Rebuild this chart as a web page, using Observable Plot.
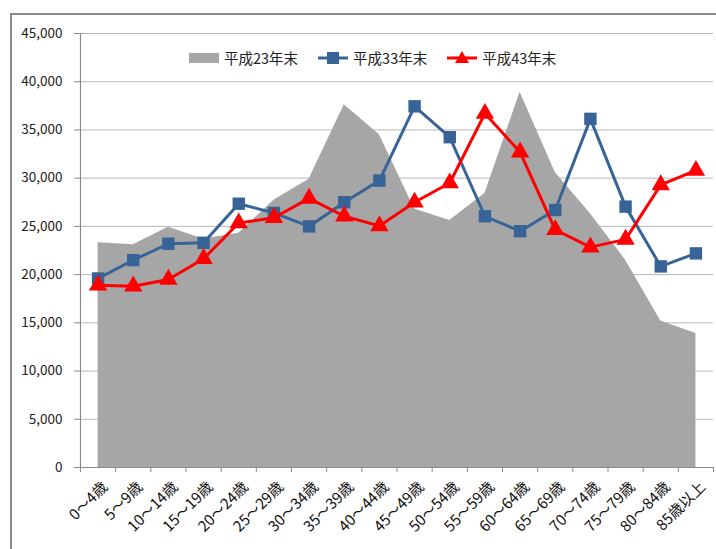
<!DOCTYPE html>
<html>
<head>
<meta charset="utf-8">
<script src="https://cdn.jsdelivr.net/npm/d3@7"></script>
<script src="https://cdn.jsdelivr.net/npm/@observablehq/plot@0.6"></script>
<style>
  html, body { margin: 0; padding: 0; background: #fff; overflow: hidden; }
  #wrap { position: relative; width: 716px; height: 549px; font-family: "Noto Sans CJK JP", "Noto Sans", sans-serif; }
  #frame { position: absolute; left: 10px; top: 13px; width: 716px; height: 560px; border: 2px solid #8a8a8a; box-sizing: border-box; pointer-events: none; }
  #chart { position: absolute; left: 0; top: 0; }
  #legend { position: absolute; top: 47px; left: 189px; display: flex; align-items: center; font-size: 14.5px; color: #222; white-space: nowrap; }
  #legend .item { display: flex; align-items: center; margin-right: 20px; }
  #legend svg { margin-right: 5px; }
</style>
</head>
<body>
<div id="wrap">
  <div id="chart"></div>
  <div id="frame"></div>
  <div id="legend"></div>
</div>
<script>
const categories = ["0～4歳","5～9歳","10～14歳","15～19歳","20～24歳","25～29歳","30～34歳","35～39歳","40～44歳","45～49歳","50～54歳","55～59歳","60～64歳","65～69歳","70～74歳","75～79歳","80～84歳","85歳以上"];
const seriesNames = ["平成23年末","平成33年末","平成43年末"];
const h23 = [23300, 23100, 24900, 23700, 24300, 27700, 29900, 37600, 34500, 26800, 25600, 28400, 38900, 30600, 26300, 21500, 15200, 13900];
const h33 = [19600, 21500, 23200, 23300, 27350, 26400, 25000, 27500, 29750, 37450, 34250, 26050, 24500, 26700, 36150, 27050, 20850, 22200];
const h43 = [18900, 18800, 19500, 21650, 25350, 25900, 27900, 26050, 25050, 27500, 29500, 36700, 32700, 24650, 22850, 23650, 29300, 30800];
const yTicks = [0, 5000, 10000, 15000, 20000, 25000, 30000, 35000, 40000, 45000];

const colors = {gray: "#a6a6a6", blue: "#386396", red: "#ff0000", axis: "#8a8a8a", grid: "#b8b8b8"};

const rows = categories.map((c, i) => ({cat: c, pos: i + 0.5, h23: h23[i], h33: h33[i], h43: h43[i]}));
const boundaries = d3.range(categories.length + 1);

const chart = Plot.plot({
  width: 716,
  height: 549,
  marginLeft: 80,
  marginRight: 3,
  marginTop: 33,
  marginBottom: 82,
  style: {fontFamily: "'Noto Sans CJK JP', 'Noto Sans', sans-serif", fontSize: "13.5px", color: "#222", background: "transparent", overflow: "visible"},
  x: {type: "linear", domain: [0, categories.length], axis: null},
  y: {domain: [0, 45000], axis: null},
  marks: [
    Plot.gridY(yTicks, {stroke: colors.grid, strokeOpacity: 1}),
    Plot.areaY(rows, {x: "pos", y: "h23", fill: colors.gray}),
    Plot.ruleY([0], {stroke: colors.axis, strokeWidth: 1.2}),
    Plot.ruleX([0], {stroke: colors.axis, strokeWidth: 1.2}),
    Plot.axisY({ticks: yTicks, tickFormat: d3.format(","), tickSize: 6, tickPadding: 12, stroke: colors.axis, fontSize: 13.5, label: null}),
    Plot.axisX({ticks: boundaries, tickSize: 5, tickFormat: () => "", stroke: colors.axis, label: null}),
    Plot.axisX({ticks: rows.map(d => d.pos), tickSize: 0, tickPadding: 17, dx: 7, tickRotate: -45, tickFormat: d => categories[Math.round(d - 0.5)], fontSize: 15, fill: "#111", label: null}),
    Plot.line(rows, {x: "pos", y: "h33", stroke: colors.blue, strokeWidth: 3}),
    Plot.dot(rows, {x: "pos", y: "h33", symbol: "square", r: 7, fill: colors.blue, stroke: "none"}),
    Plot.line(rows, {x: "pos", y: "h43", stroke: colors.red, strokeWidth: 3}),
    Plot.dot(rows, {x: "pos", y: "h43", symbol: "triangle", r: 6.8, fill: colors.red, stroke: "none"})
  ]
});
document.getElementById("chart").appendChild(chart);

// legend
const legend = document.getElementById("legend");
const swatches = [
  () => `<svg width="30" height="12"><rect x="0" y="1" width="30" height="10" fill="${colors.gray}"/></svg>`,
  () => `<svg width="30" height="14"><line x1="0" y1="7" x2="30" y2="7" stroke="${colors.blue}" stroke-width="3"/><rect x="9" y="1" width="12" height="12" fill="${colors.blue}"/></svg>`,
  () => `<svg width="30" height="14"><line x1="0" y1="7" x2="30" y2="7" stroke="${colors.red}" stroke-width="3"/><path d="M15,0 L22,12 L8,12 Z" fill="${colors.red}"/></svg>`
];
seriesNames.forEach((name, i) => {
  const item = document.createElement("div");
  item.className = "item";
  item.innerHTML = swatches[i]() + `<span>${name}</span>`;
  legend.appendChild(item);
});
</script>
</body>
</html>
